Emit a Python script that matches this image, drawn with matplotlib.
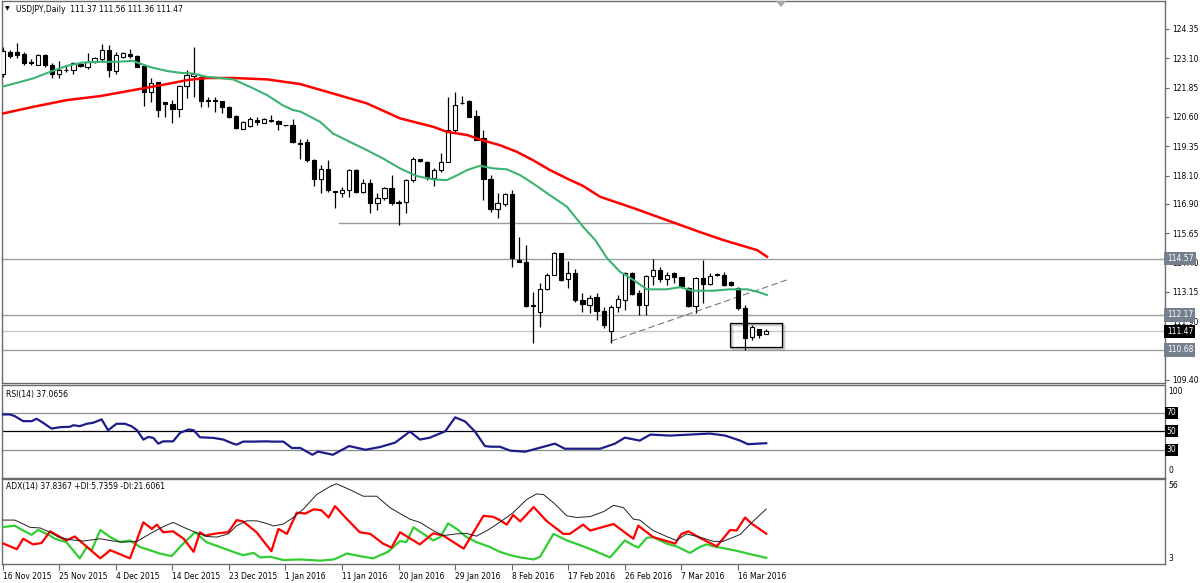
import matplotlib
matplotlib.use("Agg")
import matplotlib.pyplot as plt
from matplotlib.patches import Rectangle, Polygon
import matplotlib.transforms as mtransforms
import numpy as np

plt.rcParams['font.family'] = ['DejaVu Sans']

# ---------------- data ----------------
date_labels = ["16 Nov 2015", "25 Nov 2015", "4 Dec 2015", "14 Dec 2015", "23 Dec 2015",
               "1 Jan 2016", "11 Jan 2016", "20 Jan 2016", "29 Jan 2016", "8 Feb 2016",
               "17 Feb 2016", "26 Feb 2016", "7 Mar 2016", "16 Mar 2016"]
label_step = 8

opens = [122.45, 123.35, 123.35, 123.30, 122.92, 122.83, 123.26, 122.83, 122.45, 122.62,
         122.59, 122.85, 122.73, 122.95, 123.05, 123.44, 122.56, 123.14, 123.30, 123.19,
         122.76, 121.67, 122.09, 121.24, 121.17, 120.96, 121.91, 122.35, 122.31, 121.27,
         121.32, 121.29, 121.03, 120.63, 120.08, 120.22, 120.46, 120.36, 120.46, 120.43,
         120.25, 120.25, 119.50, 119.54, 118.76, 117.94, 118.37, 117.45, 117.35, 117.49,
         118.34, 117.42, 117.77, 116.92, 117.13, 117.56, 116.98, 116.98, 117.91, 118.83,
         118.69, 117.98, 118.34, 118.69, 120.04, 121.20, 121.29, 120.63, 119.69, 117.94,
         116.66, 116.88, 117.31, 114.51, 114.44, 112.60, 112.31, 113.26, 113.87, 114.79,
         113.68, 113.94, 112.81, 112.60, 112.92, 112.35, 111.50, 112.52, 112.81, 113.94,
         113.09, 112.59, 113.84, 114.08, 113.72, 113.94, 113.77, 113.30, 112.55, 113.73,
         113.49, 113.92, 113.89, 113.58, 113.30, 112.45, 111.23, 111.56, 111.37]
highs = [123.60, 123.45, 123.75, 123.37, 123.05, 123.30, 123.30, 122.88, 122.99, 122.76,
         122.92, 122.92, 123.33, 123.16, 123.69, 123.66, 123.37, 123.35, 123.49, 123.23,
         122.80, 122.24, 122.09, 121.25, 121.32, 121.95, 122.59, 123.56, 122.38, 121.46,
         121.46, 121.29, 121.06, 120.67, 120.44, 120.58, 120.58, 120.54, 120.67, 120.46,
         120.27, 120.50, 119.68, 119.68, 118.79, 118.55, 118.76, 117.45, 117.63, 118.37,
         118.37, 117.94, 117.94, 117.35, 117.63, 118.12, 117.06, 117.94, 118.88, 118.83,
         118.74, 118.41, 119.05, 121.46, 121.67, 121.49, 121.32, 120.89, 120.04, 118.12,
         117.37, 117.35, 117.49, 115.50, 115.15, 113.16, 113.52, 113.94, 114.86, 114.79,
         114.48, 114.11, 113.10, 113.02, 113.09, 112.52, 112.59, 113.02, 114.01, 114.01,
         113.23, 113.87, 114.53, 114.22, 114.01, 113.99, 113.77, 113.37, 113.80, 114.51,
         113.94, 113.96, 113.99, 113.60, 113.35, 112.60, 111.72, 111.58, 111.56]
lows = [122.30, 123.10, 123.09, 122.81, 122.81, 122.80, 122.71, 122.28, 122.27, 122.52,
        122.45, 122.73, 122.66, 122.88, 122.95, 122.31, 122.45, 123.10, 123.09, 122.71,
        121.06, 121.24, 120.58, 120.61, 120.35, 120.58, 121.39, 121.46, 121.03, 121.03,
        120.82, 120.75, 120.54, 120.08, 120.07, 120.18, 120.25, 120.33, 120.37, 120.04,
        120.23, 119.47, 118.80, 118.69, 117.66, 117.35, 117.42, 116.71, 117.20, 117.20,
        117.37, 117.37, 116.50, 116.63, 117.06, 116.85, 116.00, 116.50, 117.84, 118.69,
        117.91, 117.66, 118.26, 118.69, 119.97, 121.15, 120.58, 119.61, 117.06, 116.56,
        116.28, 116.80, 114.22, 114.44, 112.52, 110.96, 111.64, 113.23, 113.87, 113.60,
        113.30, 112.74, 112.31, 112.24, 111.95, 111.60, 110.98, 112.31, 112.38, 113.02,
        112.17, 112.17, 113.44, 113.58, 113.44, 113.52, 113.38, 112.52, 112.24, 112.67,
        113.44, 113.82, 113.40, 113.40, 112.38, 110.68, 111.10, 111.18, 111.36]
closes = [123.41, 123.20, 123.26, 122.88, 122.90, 123.26, 122.81, 122.42, 122.62, 122.60,
          122.88, 122.76, 122.95, 123.09, 123.44, 122.59, 123.23, 123.33, 123.19, 122.73,
          121.67, 122.05, 120.89, 121.15, 120.93, 121.91, 122.38, 122.45, 121.27, 121.32,
          121.27, 121.03, 120.61, 120.11, 120.39, 120.51, 120.37, 120.50, 120.41, 120.29,
          120.25, 119.54, 119.45, 118.76, 117.94, 118.37, 117.49, 117.42, 117.49, 118.34,
          117.42, 117.77, 116.92, 117.13, 117.56, 116.92, 116.95, 117.91, 118.83, 118.74,
          117.98, 118.34, 118.69, 120.04, 121.10, 121.20, 120.58, 119.61, 117.94, 116.66,
          116.95, 117.31, 114.58, 114.44, 112.55, 112.55, 113.26, 113.87, 114.79, 113.66,
          113.96, 112.81, 112.64, 112.88, 112.35, 111.74, 112.52, 112.83, 113.94, 113.06,
          112.59, 113.82, 114.08, 113.72, 113.87, 113.77, 113.38, 112.55, 113.73, 113.49,
          113.84, 113.89, 113.44, 113.46, 112.45, 111.20, 111.66, 111.31, 111.47]

# moving averages (bar index, price)
ma_fast_idx = [-0.4, 4.3, 6.7, 9.1, 11.4, 13.8, 16.2, 18.4, 19.4, 20.8, 23.2, 25.1, 26.9, 28.9,
               32.6, 35.0, 37.4, 39.6, 41.1, 42.1, 44.9, 46.7, 49.1, 51.5, 53.8, 56.2, 58.6,
               60.9, 62.8, 64.3, 65.7, 67.5, 69.4, 71.3, 73.2, 75.0, 77.4, 79.8, 82.1, 83.8,
               85.5, 87.3, 89.2, 91.1, 93.9, 95.8, 97.6, 100.5, 102.9, 105.3, 106.7, 108.1]
ma_fast = [121.86, 122.24, 122.52, 122.78, 122.92, 122.95, 122.95, 122.99, 122.88, 122.73,
           122.56, 122.48, 122.45, 122.31, 122.20, 121.88, 121.53, 121.10, 120.89, 120.83,
           120.39, 119.90, 119.54, 119.19, 118.83, 118.41, 118.08, 117.94, 117.91, 118.12,
           118.34, 118.52, 118.41, 118.37, 118.12, 117.77, 117.27, 116.78, 115.92, 115.36,
           114.58, 114.01, 113.66, 113.26, 113.26, 113.35, 113.20, 113.20, 113.26, 113.26,
           113.16, 113.02]
ma_slow_idx = [-0.4, 4.3, 9.1, 13.8, 18.4, 23.2, 26.1, 28.9, 32.6, 37.4, 42.1, 46.7, 51.5,
               56.2, 60.9, 62.8, 65.7, 67.5, 70.3, 72.7, 75.0, 77.4, 79.8, 82.1, 84.5, 89.2,
               93.9, 98.6, 101.9, 106.7, 108.1]
ma_slow = [120.72, 121.03, 121.32, 121.49, 121.74, 122.00, 122.17, 122.26, 122.26, 122.20,
           122.00, 121.60, 121.18, 120.54, 120.18, 119.97, 119.83, 119.64, 119.40, 119.12,
           118.76, 118.34, 117.98, 117.66, 117.20, 116.72, 116.21, 115.70, 115.36, 114.93,
           114.65]

# RSI(14)
rsi_idx = [-0.1, 1.0, 1.7, 2.9, 4.1, 4.8, 5.7, 6.9, 8.1, 9.5, 10.0, 10.9, 11.9, 12.8, 14.0,
           14.9, 16.1, 17.3, 18.2, 19.0, 19.9, 20.6, 21.3, 22.0, 22.7, 24.1, 25.1, 26.3, 27.0,
           27.9, 29.8, 31.2, 32.6, 33.1, 34.0, 35.4, 37.3, 38.0, 39.7, 40.9, 42.1, 43.8, 44.6,
           46.7, 49.0, 51.3, 53.4, 55.5, 57.6, 59.0, 60.4, 62.6, 64.0, 65.4, 66.8, 68.2, 69.0,
           70.3, 71.8, 73.9, 76.0, 78.1, 79.5, 81.7, 84.5, 86.6, 88.0, 90.1, 91.6, 94.4, 97.2,
           100.0, 102.2, 104.3, 105.4, 108.0]
rsi = [68.2, 68.2, 66.4, 60.9, 60.9, 63.5, 59.2, 52.9, 54.4, 54.8, 56.5, 55.5, 58.1, 59.2,
       62.8, 51.1, 58.1, 58.1, 55.5, 51.1, 41.0, 43.9, 42.8, 36.6, 39.1, 39.1, 48.3, 51.9,
       51.1, 43.5, 42.8, 41.0, 36.6, 35.5, 38.8, 38.8, 39.1, 38.8, 38.8, 31.9, 31.9, 24.6, 28.0,
       24.6, 34.0, 30.0, 33.0, 37.7, 49.7, 41.0, 43.0, 50.0, 65.0, 60.6, 49.7, 34.0, 33.3,
       33.3, 29.0, 27.9, 32.2, 36.6, 31.1, 31.1, 31.1, 36.6, 43.1, 39.9, 46.4, 45.3, 46.4,
       47.5, 45.3, 39.9, 36.0, 37.07]

# ADX(14), +DI, -DI
adx_idx = [0.1, 1.7, 2.4, 3.9, 5.3, 6.7, 7.9, 9.5, 11.4, 13.8, 15.6, 17.1, 19.0, 20.8, 22.5,
           24.1, 25.6, 27.0, 28.9, 30.3, 31.9, 33.1, 34.5, 35.9, 37.3, 38.3, 39.7, 41.1, 42.5,
           44.4, 46.3, 47.2, 49.1, 51.0, 52.9, 54.8, 56.2, 57.6, 59.0, 60.9, 62.3, 64.2, 65.6,
           67.0, 68.5, 70.3, 72.2, 74.1, 75.5, 76.5, 77.9, 79.8, 81.2, 83.1, 85.0, 86.4, 87.8,
           89.2, 90.1, 92.0, 93.9, 95.3, 96.7, 98.6, 100.5, 101.9, 104.3, 106.2, 108.0]
adx = [30.6, 30.6, 29.1, 25.8, 25.4, 22.6, 19.4, 17.7, 16.8, 18.3, 16.8, 16.1, 16.6, 21.5,
       25.8, 29.1, 25.8, 23.0, 19.8, 19.4, 21.5, 26.9, 30.1, 30.1, 28.4, 26.7, 28.0, 32.3,
       37.7, 47.4, 52.7, 54.5, 50.6, 46.3, 46.3, 38.7, 34.9, 31.2, 29.1, 23.7, 20.4, 21.5,
       21.9, 20.0, 23.7, 29.1, 35.5, 44.1, 47.8, 47.4, 42.0, 33.4, 32.3, 32.9, 36.2, 40.3,
       38.8, 31.2, 30.6, 23.7, 19.8, 17.2, 21.5, 19.4, 16.6, 16.6, 21.1, 30.1, 37.84]
pdi_idx = [-0.4, 1.7, 2.9, 4.1, 5.0, 6.7, 7.4, 9.0, 10.9, 11.9, 12.6, 13.8, 15.2, 16.6, 18.0,
           19.4, 20.8, 22.2, 23.9, 25.3, 27.2, 28.8, 30.7, 32.6, 34.0, 35.5, 36.4, 37.8, 39.7,
           42.0, 44.9, 46.8, 47.2, 48.7, 50.5, 52.4, 53.4, 54.5, 56.2, 57.1, 58.1, 59.5, 60.9,
           61.9, 63.0, 64.2, 65.6, 67.0, 68.9, 70.3, 71.8, 73.2, 75.1, 76.0, 77.9, 79.8, 81.7,
           83.5, 85.9, 88.0, 89.2, 89.9, 91.1, 92.0, 93.9, 95.3, 97.2, 98.6, 99.6, 100.5, 101.5,
           103.4, 105.7, 108.0]
pdi = [25.8, 26.9, 23.7, 20.9, 24.1, 20.4, 18.3, 16.1, 5.4, 12.9, 10.8, 24.1, 19.4, 16.1,
       17.2, 12.9, 10.8, 8.6, 6.9, 14.0, 22.6, 16.1, 12.9, 9.7, 7.5, 9.0, 6.0, 6.5, 4.3, 4.7,
       3.9, 4.7, 5.4, 8.6, 6.9, 5.4, 7.5, 9.7, 16.8, 16.1, 25.8, 21.5, 17.2, 19.4, 28.4,
       24.8, 19.4, 16.1, 12.9, 9.7, 7.5, 6.0, 4.7, 6.4, 21.5, 17.2, 14.0, 10.8, 6.0, 17.2,
       14.0, 12.5, 18.9, 19.4, 15.1, 13.3, 9.0, 12.9, 14.6, 13.3, 12.5, 10.8, 8.2, 5.74]
mdi_idx = [-0.4, 2.0, 2.9, 4.3, 5.5, 6.7, 9.0, 10.2, 13.8, 15.2, 18.0, 19.9, 21.1, 21.8, 22.7,
           24.1, 25.6, 27.0, 27.9, 28.6, 30.3, 31.9, 33.1, 34.0, 35.9, 38.0, 39.0, 40.2, 41.6,
           42.8, 44.0, 45.1, 46.1, 47.0, 48.7, 50.5, 52.0, 53.8, 55.0, 56.2, 59.0, 60.9, 62.3,
           65.2, 68.0, 69.4, 70.3, 71.3, 72.2, 73.2, 75.1, 76.9, 79.3, 80.2, 82.1, 83.1, 86.4,
           89.2, 89.9, 92.0, 95.1, 96.0, 97.0, 98.6, 101.0, 102.9, 103.8, 105.0, 105.9, 108.0]
mdi = [16.1, 11.4, 18.3, 14.6, 15.5, 23.2, 17.2, 19.8, 5.4, 10.8, 5.4, 29.1, 24.8, 27.6, 22.6,
       23.2, 18.3, 9.7, 22.6, 20.4, 21.9, 22.6, 30.6, 29.7, 22.6, 10.1, 24.8, 21.5, 35.5, 34.9,
       37.7, 37.0, 32.3, 39.8, 31.2, 22.6, 21.5, 15.1, 12.5, 22.6, 14.6, 21.9, 20.4, 11.8,
       33.4, 32.7, 30.6, 27.6, 34.0, 29.7, 39.2, 30.1, 21.5, 21.5, 27.6, 23.7, 28.0, 18.3,
       26.9, 19.4, 15.1, 21.5, 23.2, 18.9, 13.3, 24.1, 23.7, 32.3, 28.4, 21.61]

# chart objects
hlines_full = [114.57, 112.17, 110.68]
current_price = 111.47
support_level = 116.07
support_span = (47.5, 95.2)
trend_start = (86.0, 111.05)
trend_end = (110.9, 113.66)
box_span = (102.9, 110.2)
box_prices = (110.79, 111.83)
price_ticks = [124.35, 123.10, 121.85, 120.60, 119.35, 118.10, 116.90, 115.65, 114.40,
               113.15, 111.90, 109.40]
rsi_levels = [70, 50, 30]
rsi_bounds = ["100", "0"]
adx_axis_labels = ["56", "3"]

title_text = "USDJPY,Daily  111.37 111.56 111.36 111.47"
rsi_text = "RSI(14) 37.0656"
adx_text = "ADX(14) 37.8367 +DI:5.7359 -DI:21.6061"

# ---------------- layout ----------------
W, H = 1200, 583
fig = plt.figure(figsize=(W / 100, H / 100), dpi=100)


def box(x0, y0, x1, y1):
    return [x0 / W, 1 - y1 / H, (x1 - x0) / W, (y1 - y0) / H]


X0, X1 = 1.7, 1165
RSI_TOP, RSI_BOT = 385, 477.5
ADX_TOP, ADX_BOT = 478.5, 564
ax = fig.add_axes(box(X0, 0.5, X1, 383))
ax_rsi = fig.add_axes(box(X0, RSI_TOP, X1, RSI_BOT))
ax_adx = fig.add_axes(box(X0, ADX_TOP, X1, ADX_BOT))

px_per_bar = 7.07
first_bar_px = 2.7
xmin = (X0 - first_bar_px) / px_per_bar
xmax = (X1 - first_bar_px) / px_per_bar

FS = 5.5
for a in (ax, ax_rsi, ax_adx):
    a.set_xlim(xmin, xmax)
    for s in a.spines.values():
        s.set_color('#6b6b6b')
        s.set_linewidth(1.0)
    a.yaxis.tick_right()
    a.tick_params(axis='y', direction='out', length=3, width=0.8, colors='#6b6b6b',
                  labelcolor='black', labelsize=FS, pad=2)
    a.tick_params(axis='x', bottom=False, labelbottom=False)

# ---------------- price panel ----------------
YLO, YHI = 109.27, 125.56
ax.set_ylim(YLO, YHI)
n = len(opens)
idx = np.arange(n)
o = np.array(opens); h = np.array(highs); l = np.array(lows); c = np.array(closes)
ax.vlines(idx, l, h, color='black', linewidth=0.9, zorder=3)
body_lo = np.minimum(o, c)
body_h = np.maximum(np.abs(c - o), 0.012)
face = ['white' if cc >= oo else 'black' for oo, cc in zip(o, c)]
ax.bar(idx, body_h, bottom=body_lo, width=0.6, color=face, edgecolor='black',
       linewidth=0.8, zorder=4)

ax.plot(ma_slow_idx, ma_slow, color='#ff0000', linewidth=1.8, zorder=5)
ax.plot(ma_fast_idx, ma_fast, color='#3cb371', linewidth=1.5, zorder=5)

for lv in hlines_full:
    ax.axhline(lv, color='#9aa0a6', linewidth=1.0, zorder=1)
ax.axhline(current_price, color='#c8c8c8', linewidth=1.0, zorder=1)
ax.plot(support_span, [support_level, support_level], color='#9a9a9a', linewidth=1.0, zorder=1)
ax.plot([trend_start[0], trend_end[0]], [trend_start[1], trend_end[1]], color='#777777',
        linewidth=0.8, linestyle=(0, (6, 3)), zorder=2)

# selection box with soft shadow
bx0, bx1 = box_span
by0, by1 = box_prices
dpx = 1.0 / px_per_bar
dpy = (YHI - YLO) / 382.5
for k, alpha in ((3, 0.08), (2, 0.13), (1, 0.2)):
    ax.add_patch(Rectangle((bx0 + k * dpx, by0 - k * dpy), bx1 - bx0, by1 - by0,
                           facecolor='none', edgecolor='#000000', alpha=alpha,
                           linewidth=1.2, zorder=2))
ax.add_patch(Rectangle((bx0, by0), bx1 - bx0, by1 - by0, facecolor='none',
                       edgecolor='black', linewidth=0.9, zorder=6))

ax.set_yticks(price_ticks)
ax.set_yticklabels(["%.2f" % t for t in price_ticks])

trans = mtransforms.blended_transform_factory(ax.transAxes, ax.transData)
for lv in hlines_full:
    ax.text(1.0015, lv, "%.2f" % lv, transform=trans, fontsize=FS, color='white',
            va='center', ha='left', zorder=10,
            bbox=dict(boxstyle='square,pad=0.3', facecolor='#75808e', edgecolor='none'),
            clip_on=False)
ax.text(1.0015, current_price, "%.2f" % current_price, transform=trans, fontsize=FS,
        color='white', va='center', ha='left', zorder=10,
        bbox=dict(boxstyle='square,pad=0.3', facecolor='black', edgecolor='none'),
        clip_on=False)

# ---------------- RSI panel ----------------
ax_rsi.set_ylim(0, 100)
ax_rsi.plot(rsi_idx, rsi, color='#1c1c8a', linewidth=1.6, zorder=3)
for lv in rsi_levels:
    ax_rsi.axhline(lv, color='black' if lv == 50 else '#8c8c8c', linewidth=0.9, zorder=1)
ax_rsi.set_yticks([])
rh = RSI_BOT - RSI_TOP
ax_rsi.text(1.003, (RSI_BOT - 391.5) / rh, rsi_bounds[0], transform=ax_rsi.transAxes,
            fontsize=FS, va='center', ha='left')
ax_rsi.text(1.003, (RSI_BOT - 470.5) / rh, rsi_bounds[1], transform=ax_rsi.transAxes,
            fontsize=FS, va='center', ha='left')
trans_r = mtransforms.blended_transform_factory(ax_rsi.transAxes, ax_rsi.transData)
for lv in rsi_levels:
    ax_rsi.text(1.0015, lv, str(lv), transform=trans_r, fontsize=FS, color='white',
                va='center', ha='left',
                bbox=dict(boxstyle='square,pad=0.2', facecolor='black', edgecolor='none'),
                clip_on=False)
ax_rsi.text(0.0035, (RSI_BOT - 394) / rh, rsi_text, transform=ax_rsi.transAxes,
            fontsize=FS, va='center', ha='left')

# ---------------- ADX panel ----------------
ax_adx.set_ylim(1.69, 57.96)
ax_adx.plot(pdi_idx, pdi, color='#32cd32', linewidth=1.6, zorder=3)
ax_adx.plot(mdi_idx, mdi, color='#ff0000', linewidth=1.6, zorder=4)
ax_adx.plot(adx_idx, adx, color='#202020', linewidth=0.7, zorder=5)
ax_adx.set_yticks([])
ah = ADX_BOT - ADX_TOP
ax_adx.text(1.003, (ADX_BOT - 486) / ah, adx_axis_labels[0], transform=ax_adx.transAxes,
            fontsize=FS, va='center', ha='left')
ax_adx.text(1.003, (ADX_BOT - 558.5) / ah, adx_axis_labels[1], transform=ax_adx.transAxes,
            fontsize=FS, va='center', ha='left')
ax_adx.text(0.0035, (ADX_BOT - 487) / ah, adx_text, transform=ax_adx.transAxes,
            fontsize=FS, va='center', ha='left')

xt = [k * label_step for k in range(len(date_labels))]
ax_adx.set_xticks(xt)
ax_adx.set_xticklabels(date_labels, ha='left')
ax_adx.tick_params(axis='x', bottom=True, labelbottom=True, direction='out', length=4,
                   width=0.8, colors='#6b6b6b', labelcolor='black', labelsize=FS, pad=1.5)

# ---------------- title & markers ----------------
fig.text(5 / W, 1 - 9 / H, "\u25BC", fontsize=4.5, va='center', ha='left')
fig.text(16 / W, 1 - 9 / H, title_text, fontsize=FS, va='center', ha='left')
tri = Polygon([[776 / W, 1 - 1 / H], [786 / W, 1 - 1 / H], [781 / W, 1 - 7 / H]],
              closed=True, transform=fig.transFigure, facecolor='#a8a8a8',
              edgecolor='none')
fig.patches.append(tri)

fig.savefig("out.png", dpi=100)
